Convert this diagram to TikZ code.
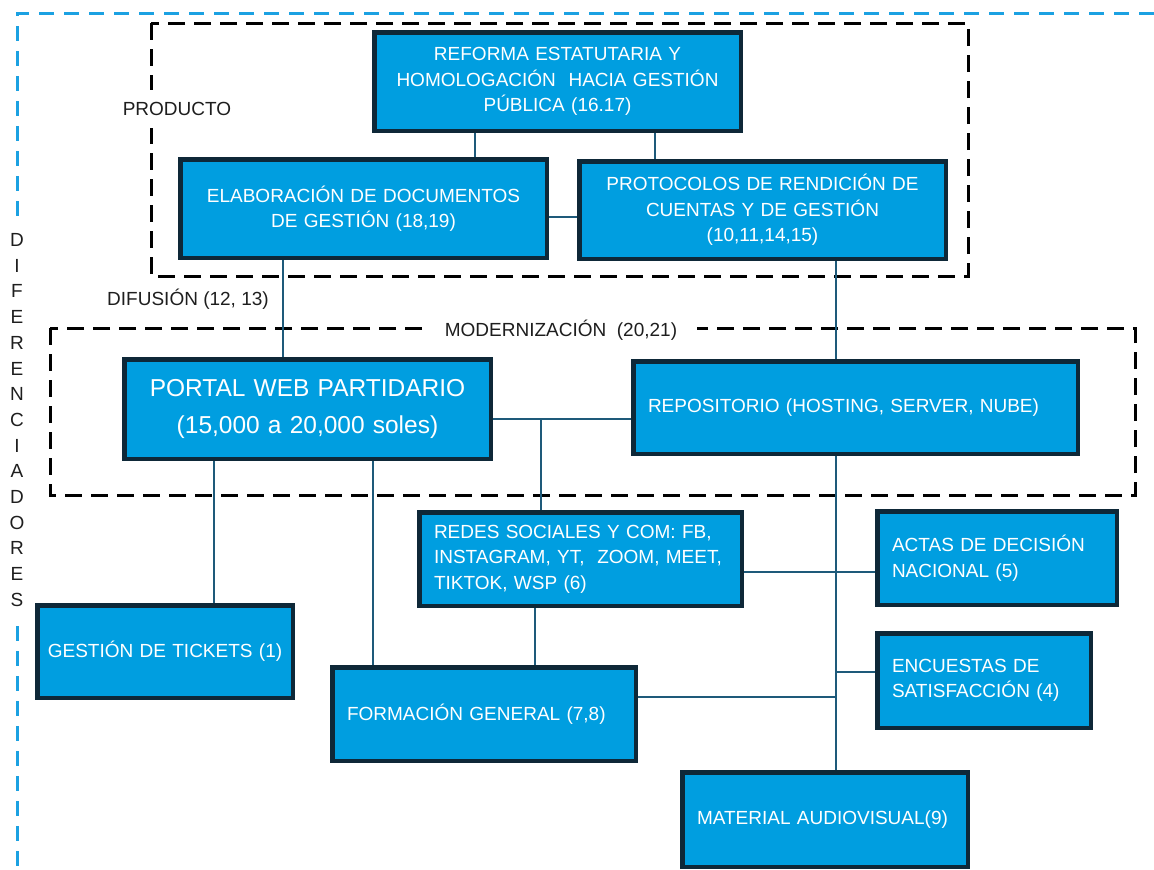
\documentclass[tikz,border=0pt]{standalone}
\usepackage{fontspec}
\setmainfont{Liberation Sans}
\definecolor{boxblue}{RGB}{0,158,224}
\definecolor{boxedge}{RGB}{14,40,56}
\definecolor{connc}{RGB}{30,90,122}
\definecolor{outerblue}{RGB}{27,161,226}
\definecolor{labelc}{RGB}{30,30,30}
\begin{document}
\begin{tikzpicture}[x=1pt,y=-1pt,
  box/.style={draw=boxedge, line width=3pt, fill=boxblue, text=white,
    font=\fontsize{19}{25.5}\selectfont, inner xsep=14pt, inner ysep=0pt},
  conn/.style={draw=connc, line width=2.5pt},
  boxline/.style={draw=boxedge, line width=3pt},
  blackdash/.style={draw=black, line width=3pt, dash pattern=on 17pt off 9pt},
  bluedash/.style={draw=outerblue, line width=3pt, dash pattern=on 15pt off 10pt},
  lbl/.style={text=labelc, font=\fontsize{19}{23}\selectfont}]
\useasboundingbox (0,0) rectangle (1154,870);

% outer blue dashed frame
\draw[bluedash] (1154,13) -- (17,13) -- (17,220);
\draw[bluedash] (17,626) -- (17,870);
\node[lbl, align=center, font=\fontsize{19}{25.7}\selectfont] (dif) at (17,420)
  {D\\I\\F\\E\\R\\E\\N\\C\\I\\A\\D\\O\\R\\E\\S};

% dashed group frames
\draw[blackdash] (151,23) rectangle (968,276);
\draw[blackdash] (50,328) rectangle (1135,495);
\node[lbl, fill=white, inner xsep=4pt, inner ysep=12pt] (producto) at (177,109) {PRODUCTO};
\node[lbl, fill=white, inner xsep=20pt, inner ysep=6pt] (moder) at (561,330) {MODERNIZACIÓN~ (20,21)};
\node[lbl] (difus) at (188,299) {DIFUSIÓN (12, 13)};

% boxes
\node[box, text width=337pt, minimum height=97pt, align=center] (ref) at (557.5,81.5)
  {REFORMA ESTATUTARIA Y\\HOMOLOGACIÓN~ HACIA GESTIÓN\\PÚBLICA (16.17)};
\node[box, text width=337pt, minimum height=97pt, align=center] (elab) at (363.5,208.5)
  {ELABORACIÓN DE DOCUMENTOS\\DE GESTIÓN (18,19)};
\node[box, text width=337pt, minimum height=96pt, align=center] (prot) at (762.5,210)
  {PROTOCOLOS DE RENDICIÓN DE\\CUENTAS Y DE GESTIÓN\\(10,11,14,15)};
\node[box, text width=337pt, minimum height=98pt, align=center,
  font=\fontsize{24.5}{37}\selectfont] (portal) at (307.5,409)
  {PORTAL WEB PARTIDARIO\\(15,000 a 20,000 soles)};
\node[box, text width=415pt, minimum height=91pt, align=left] (repo) at (855.5,407.5)
  {REPOSITORIO (HOSTING, SERVER, NUBE)};
\node[box, text width=293pt, minimum height=92pt, align=left] (redes) at (580.5,559)
  {REDES SOCIALES Y COM: FB,\\INSTAGRAM, YT,~ ZOOM, MEET,\\TIKTOK, WSP (6)};
\node[box, inner xsep=2pt, text width=250pt, minimum height=91pt, align=center] (tickets) at (165,651.5)
  {GESTIÓN DE TICKETS (1)};
\node[box, text width=274pt, minimum height=92pt, align=left] (form) at (484,714)
  {FORMACIÓN GENERAL (7,8)};
\node[box, text width=210pt, minimum height=92pt, align=left] (actas) at (997,558)
  {ACTAS DE DECISIÓN\\NACIONAL (5)};
\node[box, text width=184pt, minimum height=93pt, align=left] (enc) at (984,680.5)
  {ENCUESTAS DE\\SATISFACCIÓN (4)};
\node[box, text width=256pt, minimum height=93pt, align=left] (mat) at (825,819.5)
  {MATERIAL AUDIOVISUAL(9)};

% junction points
\coordinate (jweb) at (541,419);
\coordinate (jenc) at (836,672);
\coordinate (jform) at (836,697);

% connectors
\draw[conn] (475,0 |- ref.south) -- (475,0 |- elab.north);
\draw[conn] (655,0 |- ref.south) -- (655,0 |- prot.north);
\draw[conn] (elab.east |- 0,217) -- (prot.west |- 0,217);
\draw[conn] (283,0 |- elab.south) -- (283,0 |- portal.north);
\draw[conn] (836,0 |- prot.south) -- (836,0 |- repo.north);
\draw[conn] (portal.east |- jweb) -- (repo.west |- jweb);
\draw[conn] (jweb) -- (jweb |- redes.north);
\draw[conn] (214,0 |- portal.south) -- (214,0 |- tickets.north);
\draw[conn] (373,0 |- portal.south) -- (373,0 |- form.north);
\draw[conn] (535,0 |- redes.south) -- (535,0 |- form.north);
\draw[conn] (836,0 |- repo.south) -- (836,0 |- mat.north);
\draw[conn] (redes.east |- 0,572) -- (actas.west |- 0,572);
\draw[conn] (enc.west |- jenc) -- (jenc);
\draw[conn] (form.east |- jform) -- (jform);

% box outlines on top of connector ends
\foreach \n in {ref,elab,prot,portal,repo,redes,tickets,form,actas,enc,mat}{
  \draw[boxline] (\n.south west) rectangle (\n.north east);
}
\end{tikzpicture}
\end{document}
